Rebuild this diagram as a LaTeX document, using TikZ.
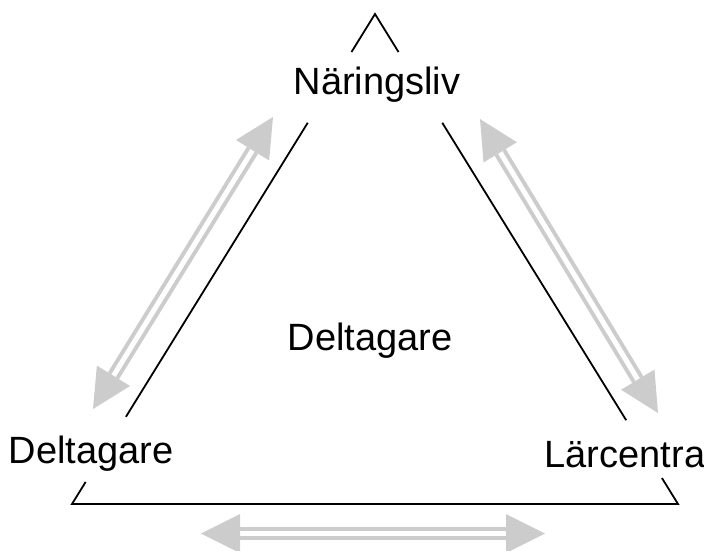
\documentclass[tikz,border=0pt]{standalone}
\usepackage{fontspec}
\setmainfont{Liberation Sans}
\usetikzlibrary{calc}
\definecolor{arrowgray}{RGB}{204,204,204}
\begin{document}
\begin{tikzpicture}[x=1pt,y=-1pt,
  label/.style={inner sep=0pt,font=\fontsize{38}{45}\selectfont,anchor=base},
  side/.style={draw=black,line width=1.8pt},
  shaft/.style={draw=arrowgray,double=white,line width=4pt,double distance=5pt},
  head/.style={fill=arrowgray}]
\useasboundingbox (0,0) rectangle (704,551);
% triangle vertices
\coordinate (A) at (375,14);
\coordinate (B) at (72,504);
\coordinate (C) at (678,504);
% labels
\node[label] (nar) at (377,95) {Näringsliv};
\node[label] (mid) at (370,350) {Deltagare};
\node[label] (del) at (91,463) {Deltagare};
\node[label] (lar) at (625,467) {Lärcentra};
% triangle sides, interrupted by labels
\draw[side] ($(A)!0.0776!(B)$) -- (A) -- ($(A)!0.0776!(C)$);
\draw[side] ($(A)!0.222!(B)$) -- ($(A)!0.822!(B)$);
\draw[side] ($(A)!0.955!(B)$) -- (B) -- (C) -- ($(A)!0.947!(C)$);
\draw[side] ($(A)!0.222!(C)$) -- ($(A)!0.829!(C)$);
% arrow tips
\coordinate (l1) at (273,117);
\coordinate (l2) at (93,409);
\coordinate (r1) at (480,119);
\coordinate (r2) at (658,413);
\coordinate (b1) at (201,533.5);
\coordinate (b2) at (545,533.5);
% head bases
\coordinate (l1b) at ($(l1)!39pt!(l2)$);
\coordinate (l2b) at ($(l2)!39pt!(l1)$);
\coordinate (r1b) at ($(r1)!39pt!(r2)$);
\coordinate (r2b) at ($(r2)!39pt!(r1)$);
\coordinate (b1b) at ($(b1)!39pt!(b2)$);
\coordinate (b2b) at ($(b2)!39pt!(b1)$);
% shafts
\draw[shaft] (l1b) -- (l2b);
\draw[shaft] (r1b) -- (r2b);
\draw[shaft] (b1b) -- (b2b);
% heads
\fill[head] (l1) -- ($(l1b)!19.5pt!90:(l1)$) -- ($(l1b)!19.5pt!-90:(l1)$) -- cycle;
\fill[head] (l2) -- ($(l2b)!19.5pt!90:(l2)$) -- ($(l2b)!19.5pt!-90:(l2)$) -- cycle;
\fill[head] (r1) -- ($(r1b)!19.5pt!90:(r1)$) -- ($(r1b)!19.5pt!-90:(r1)$) -- cycle;
\fill[head] (r2) -- ($(r2b)!19.5pt!90:(r2)$) -- ($(r2b)!19.5pt!-90:(r2)$) -- cycle;
\fill[head] (b1) -- ($(b1b)!19.5pt!90:(b1)$) -- ($(b1b)!19.5pt!-90:(b1)$) -- cycle;
\fill[head] (b2) -- ($(b2b)!19.5pt!90:(b2)$) -- ($(b2b)!19.5pt!-90:(b2)$) -- cycle;
\end{tikzpicture}
\end{document}
